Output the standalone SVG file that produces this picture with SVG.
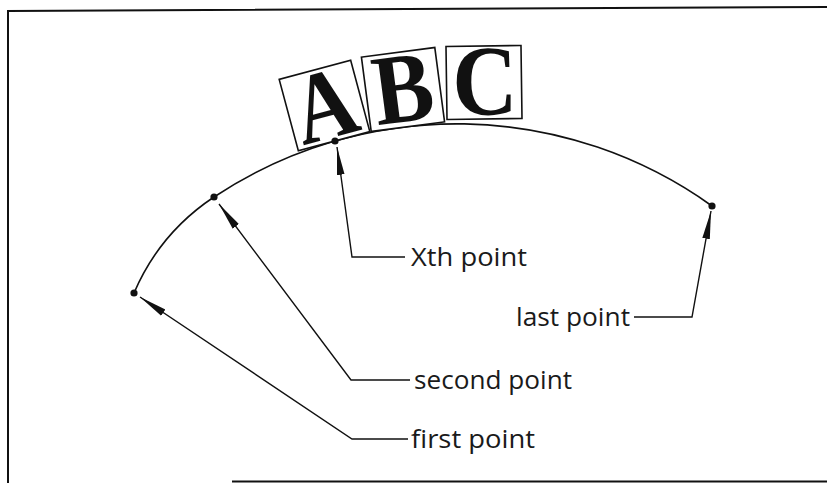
<svg xmlns="http://www.w3.org/2000/svg" width="827" height="483" viewBox="0 0 827 483">
<style>
.frame{fill:none;stroke:#111;stroke-width:2}
.curve{fill:none;stroke:#111;stroke-width:1.6}
.leader{fill:none;stroke:#111;stroke-width:1.4;marker-end:url(#arrow)}
.dot{fill:#111}
.lbl{font-family:"Open Sans","Liberation Sans",Arial,sans-serif;font-size:26px;fill:#1a1a1a}
.box{fill:#fff;stroke:#111;stroke-width:1.6}
.glyph{font-family:"Liberation Serif","Times New Roman",serif;font-weight:bold;font-size:100px;fill:#111;text-anchor:middle}
</style>
<defs>
<marker id="arrow" markerUnits="userSpaceOnUse" markerWidth="30" markerHeight="12" refX="28" refY="5" orient="auto" viewBox="0 0 30 10">
<path d="M0,1.2 L28,5 L0,8.8 Z" fill="#111"/>
</marker>
</defs>
<rect width="827" height="483" fill="#fff"/>
<g id="frame">
<path class="frame" d="M8,483 V11 L827,7"/>
<path class="frame" d="M232,481.5 H827"/>
</g>
<g id="curve">
<path class="curve" d="M134,293 A218.5,218.5 0 0 1 214,197 A438.4,438.4 0 0 1 712,206"/>
</g>
<g id="box-A" transform="translate(324.5,105.5) rotate(-15)">
<rect class="box" x="-37" y="-37" width="74" height="74"/>
<text class="glyph" transform="scale(0.86,1)" x="0" y="33">A</text>
</g>
<g id="box-B" transform="translate(403,89.5) rotate(-7.5)">
<rect class="box" x="-37" y="-37.5" width="74" height="75"/>
<text class="glyph" transform="scale(0.9,1)" x="0" y="32">B</text>
</g>
<g id="box-C" transform="translate(484,82.5) rotate(-0.8)">
<rect class="box" x="-37.5" y="-36.5" width="75" height="73"/>
<text class="glyph" transform="scale(0.9,1)" x="1" y="32">C</text>
</g>
<g id="points">
<circle class="dot" cx="134" cy="293" r="3.6"/>
<circle class="dot" cx="214" cy="197" r="3.6"/>
<circle class="dot" cx="335" cy="141" r="3.6"/>
<circle class="dot" cx="712" cy="206" r="3.6"/>
</g>
<g id="connectors">
<path class="leader" d="M408,439 H352 L140,297"/>
<path class="leader" d="M410,380 H351 L219,204"/>
<path class="leader" d="M405,257 H352 L337,147"/>
<path class="leader" d="M634,317 H692 L711,211"/>
</g>
<g id="label-first"><text class="lbl" x="411" y="448" textLength="124" lengthAdjust="spacingAndGlyphs">first point</text></g>
<g id="label-second"><text class="lbl" x="414" y="389" textLength="158" lengthAdjust="spacingAndGlyphs">second point</text></g>
<g id="label-xth"><text class="lbl" x="411" y="266" textLength="116" lengthAdjust="spacingAndGlyphs">Xth point</text></g>
<g id="label-last"><text class="lbl" x="516" y="326" textLength="114" lengthAdjust="spacingAndGlyphs">last point</text></g>
</svg>
